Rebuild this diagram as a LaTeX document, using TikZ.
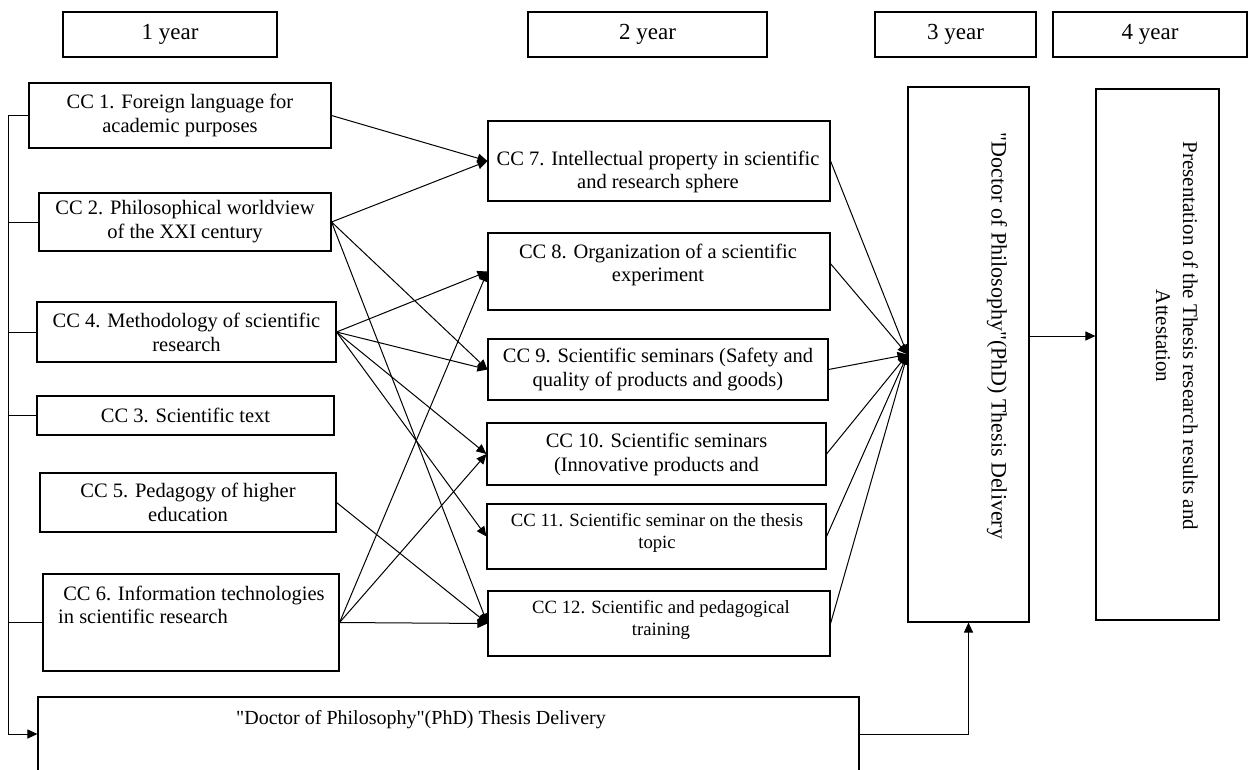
\documentclass[tikz,border=0pt]{standalone}
\usepackage{fontspec}
\setmainfont{Liberation Serif}[Ligatures=TeXOff]
\usetikzlibrary{arrows.meta,calc}
\begin{document}
\begin{tikzpicture}[x=1pt,y=-1pt,
  rbox/.style n args={4}{draw, line width=1.1pt, inner sep=0pt, align=center,
     font=\fontsize{20.5}{24}\selectfont,
     minimum width={(#3-#1)*1pt}, minimum height={(#4-#2)*1pt},
     at={({(#1+#3)/2},{(#2+#4)/2})}},
  yearbox/.style={font=\fontsize{23}{26}\selectfont},
  txt/.style={align=center, inner sep=0pt, font=\fontsize{20.5}{23.5}\selectfont},
  stxt/.style={align=center, inner sep=0pt, font=\fontsize{18.7}{21.5}\selectfont},
  conn/.style={line width=1pt},
  arr/.style={line width=1pt, -{Triangle[length=10pt,width=9pt]}},
]
\useasboundingbox (0,0) rectangle (1248,769);
\begin{scope}
\clip (0,0) rectangle (1248,769);
% year boxes
\node[rbox={63}{12}{277}{57}, yearbox] (y1) {1 year};
\node[rbox={528}{12}{767}{57}, yearbox] (y2) {2 year};
\node[rbox={875}{12}{1036}{57}, yearbox] (y3) {3 year};
\node[rbox={1053}{12}{1247}{57}, yearbox] (y4) {4 year};
% left column
\node[rbox={29}{83}{331}{148}] (cc1) {CC 1. Foreign language for\\academic purposes};
\node[rbox={39}{193}{331}{251}] (cc2) {CC 2. Philosophical worldview\\of the XXI century};
\node[rbox={37}{302}{336}{362}] (cc4) {CC 4. Methodology of scientific\\research};
\node[rbox={37}{396}{334}{435}] (cc3) {CC 3. Scientific text};
\node[rbox={40}{473}{336}{532}] (cc5) {CC 5. Pedagogy of higher\\education};
\node[rbox={43}{574}{339}{671}] (cc6) {};
\node[txt, align=left, anchor=west] (t6) at (58,605) {\ CC 6. Information technologies\\in scientific research};
% bottom box
\node[rbox={38}{697}{859}{771}] (bot) {};
\node[txt, font=\fontsize{20}{23}\selectfont] (tb) at (421,720) {"Doctor of Philosophy"(PhD) Thesis Delivery};
% middle column
\node[rbox={488}{121}{830}{201}] (cc7) {};
\node[txt] (t7) at (658,172) {CC 7. Intellectual property in scientific\\and research sphere};
\node[rbox={488}{233}{830}{310}] (cc8) {};
\node[txt] (t8) at (658,265) {CC 8. Organization of a scientific\\experiment};
\node[rbox={488}{339}{828}{400}] (cc9) {CC 9. Scientific seminars (Safety and\\quality of products and goods)};
\node[rbox={487}{423}{826}{485}] (cc10) {CC 10. Scientific seminars\\(Innovative products and};
\node[rbox={487}{504}{826}{569}] (cc11) {};
\node[stxt] (t11) at (657,533) {CC 11. Scientific seminar on the thesis\\topic};
\node[rbox={488}{591}{830}{656}] (cc12) {};
\node[stxt] (t12) at (661,620) {CC 12. Scientific and pedagogical\\training};
% right column
\node[rbox={908}{87}{1029}{622}] (phd) {};
\node[txt, rotate=-90, font=\fontsize{22}{25}\selectfont] (tp) at (997,336) {"Doctor of Philosophy"(PhD) Thesis Delivery};
\node[rbox={1096}{89}{1219}{620}] (pres) {};
\node[txt, rotate=-90, font=\fontsize{21}{27}\selectfont] (tr) at (1177,336) {Presentation of the Thesis research results and\\Attestation};
% left bracket
\coordinate (L) at (8,0);
\coordinate (A) at (0,336);
\draw[conn] (cc1.west -| L) -- (bot.west -| L);
\draw[conn] (cc1.west -| L) -- (cc1.west);
\draw[conn] (cc2.west -| L) -- (cc2.west);
\draw[conn] (cc4.west -| L) -- (cc4.west);
\draw[conn] (cc3.west -| L) -- (cc3.west);
\draw[conn] (cc6.west -| L) -- (cc6.west);
\draw[arr] (bot.west -| L) -- (bot.west);
% left to middle
\draw[arr] (cc1.east) -- (cc7.west);
\draw[arr] (cc2.east) -- (cc7.west);
\draw[arr] (cc2.east) -- (cc9.west);
\draw[arr] (cc2.east) -- (cc12.west);
\draw[arr] (cc4.east) -- (cc8.west);
\draw[arr] (cc4.east) -- (cc9.west);
\draw[arr] (cc4.east) -- (cc10.west);
\draw[arr] (cc4.east) -- (cc11.west);
\draw[arr] (cc5.east) -- (cc12.west);
\draw[arr] (cc6.east) -- (cc8.west);
\draw[arr] (cc6.east) -- (cc10.west);
\draw[arr] (cc6.east) -- (cc12.west);
% middle to PhD
\draw[arr] (cc7.east) -- (phd.west);
\draw[arr] ($(cc8.north east)!0.4!(cc8.south east)$) -- (phd.west);
\draw[arr] (cc9.east) -- (phd.west);
\draw[arr] (cc10.east) -- (phd.west);
\draw[arr] (cc11.east) -- (phd.west);
\draw[arr] (cc12.east) -- (phd.west);
% right
\draw[arr] (bot.east) -| (phd.south);
\draw[arr] (phd.east |- A) -- (pres.west |- A);
\end{scope}
\end{tikzpicture}
\end{document}
